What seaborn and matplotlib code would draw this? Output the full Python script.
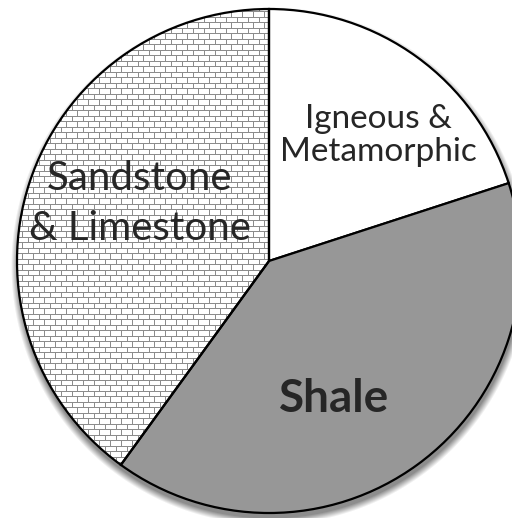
import numpy as np
import matplotlib
matplotlib.use("Agg")
import matplotlib.pyplot as plt
import seaborn as sns

# data
rock_types = ["Igneous &\nMetamorphic", "Shale", "Sandstone\n& Limestone"]
shares = [20, 40, 40]
fills = ["white", "#979797", "none"]

sns.set_theme(style="white")
plt.rcParams["font.family"] = ["Lato", "DejaVu Sans"]

W, H = 512, 518
fig = plt.figure(figsize=(W / 100, H / 100), dpi=100)
ax = fig.add_axes([0, 0, 1, 1])

cx, cy, r = 269, 257, 252

# soft drop shadow under the disc
yy, xx = np.mgrid[H:0:-1, 0:W] + 0.5
d = np.hypot(xx - cx - 1, yy - (cy - 4)) - r
shadow = np.clip(1 - d / 7, 0, 1) * 0.45
rgba = np.zeros((H, W, 4))
rgba[..., 3] = shadow
ax.imshow(rgba, extent=(0, W, 0, H), zorder=0, interpolation="bilinear")

wedges, _ = ax.pie(shares, colors=fills, startangle=90, counterclock=False,
                   center=(cx, cy), radius=r, frame=True,
                   wedgeprops=dict(edgecolor="black", linewidth=1.6, zorder=3))

# brick texture for sandstone & limestone
bh, bw = 5.5, 11.0
rows, cols = np.mgrid[0:H, 0:W].astype(float)
row_id = np.floor(rows / bh)
hline = row_id != np.floor((rows - 1) / bh)
shift = (row_id % 2) * bw / 2
vline = np.floor((cols + shift) / bw) != np.floor((cols - 1 + shift) / bw)
brick = np.ones((H, W, 3))
brick[hline | vline] = 0.55
img = ax.imshow(brick, extent=(0, W, 0, H), zorder=2, interpolation="nearest")
img.set_clip_path(wedges[2])

ax.set_xlim(0, W)
ax.set_ylim(0, H)
ax.axis("off")

ax.text(378, 390, "Igneous &", ha="center", va="baseline", fontsize=24, zorder=5)
ax.text(378, 357, "Metamorphic", ha="center", va="baseline", fontsize=24, zorder=5)
ax.text(139, 328, "Sandstone", ha="center", va="baseline", fontsize=29, zorder=5)
ax.text(140, 278, "& Limestone", ha="center", va="baseline", fontsize=29, zorder=5)
ax.text(334, 106, "Shale", ha="center", va="baseline", fontsize=33,
        fontweight="bold", zorder=5)

fig.savefig("out.png", dpi=100)
